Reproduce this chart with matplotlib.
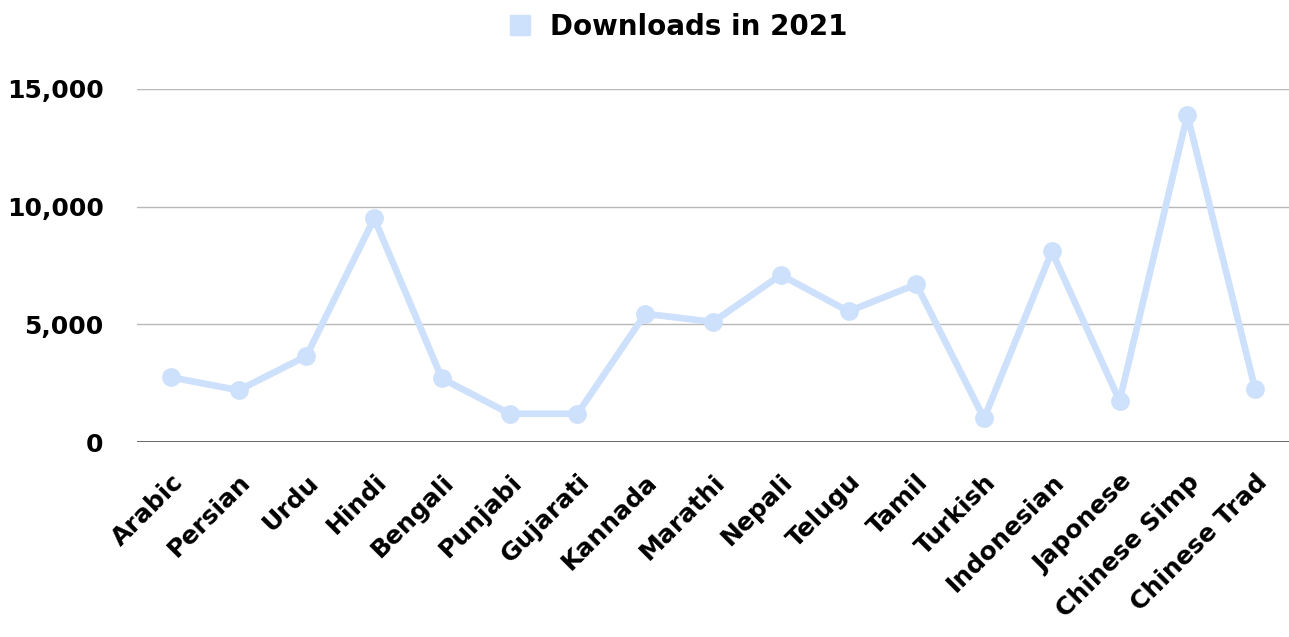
import matplotlib.pyplot as plt
from matplotlib.lines import Line2D

plt.rcParams.update({'font.family': ['DejaVu Sans'], 'font.weight': 'bold'})

languages = ['Arabic', 'Persian', 'Urdu', 'Hindi', 'Bengali', 'Punjabi', 'Gujarati',
             'Kannada', 'Marathi', 'Nepali', 'Telugu', 'Tamil', 'Turkish',
             'Indonesian', 'Japonese', 'Chinese Simp', 'Chinese Trad']
downloads = [2750, 2200, 3650, 9500, 2700, 1200, 1200, 5450, 5100, 7100,
             5550, 6700, 1000, 8100, 1750, 13900, 2250]
y_ticks = [0, 5000, 10000, 15000]
y_labels = ['0', '5,000', '10,000', '15,000']

line_color = '#cde0fc'

fig = plt.figure(figsize=(12.89, 6.37), dpi=100)
ax = fig.add_axes([137 / 1289, 1 - 442 / 637, 1 - 137 / 1289, (442 - 89) / 637])

x = list(range(len(languages)))
ax.plot(x, downloads, color=line_color, lw=4.8, marker='o', markersize=12.5,
        solid_capstyle='round', solid_joinstyle='round', zorder=3)

ax.set_xlim(-0.5, len(languages) - 0.5)
ax.set_ylim(0, 15000)
ax.set_yticks(y_ticks)
ax.set_yticklabels(y_labels, fontsize=18, fontweight='bold')
ax.set_xticks(x)
ax.set_xticklabels(languages, rotation=45, ha='right', rotation_mode='anchor',
                   fontsize=18, fontweight='bold')
ax.tick_params(axis='y', length=0, pad=24)
ax.tick_params(axis='x', length=0, pad=20)
for lbl in ax.get_xticklabels():
    lbl.set_va('top')
    lbl.set_ha('right')

for yv in y_ticks[1:]:
    ax.axhline(yv, color='#b8b8b8', lw=1, zorder=1)
ax.axhline(0, color='#666666', lw=1.4, zorder=2)
for s in ax.spines.values():
    s.set_visible(False)

handle = Line2D([], [], marker='s', color=line_color, linestyle='none', markersize=15)
fig.legend([handle], ['Downloads in 2021'], loc='center', bbox_to_anchor=(0.525, 1 - 27 / 637),
           frameon=False, prop={'size': 20, 'weight': 'bold'}, handlelength=1.0,
           handletextpad=0.6)

fig.savefig('out.png', dpi=100)
